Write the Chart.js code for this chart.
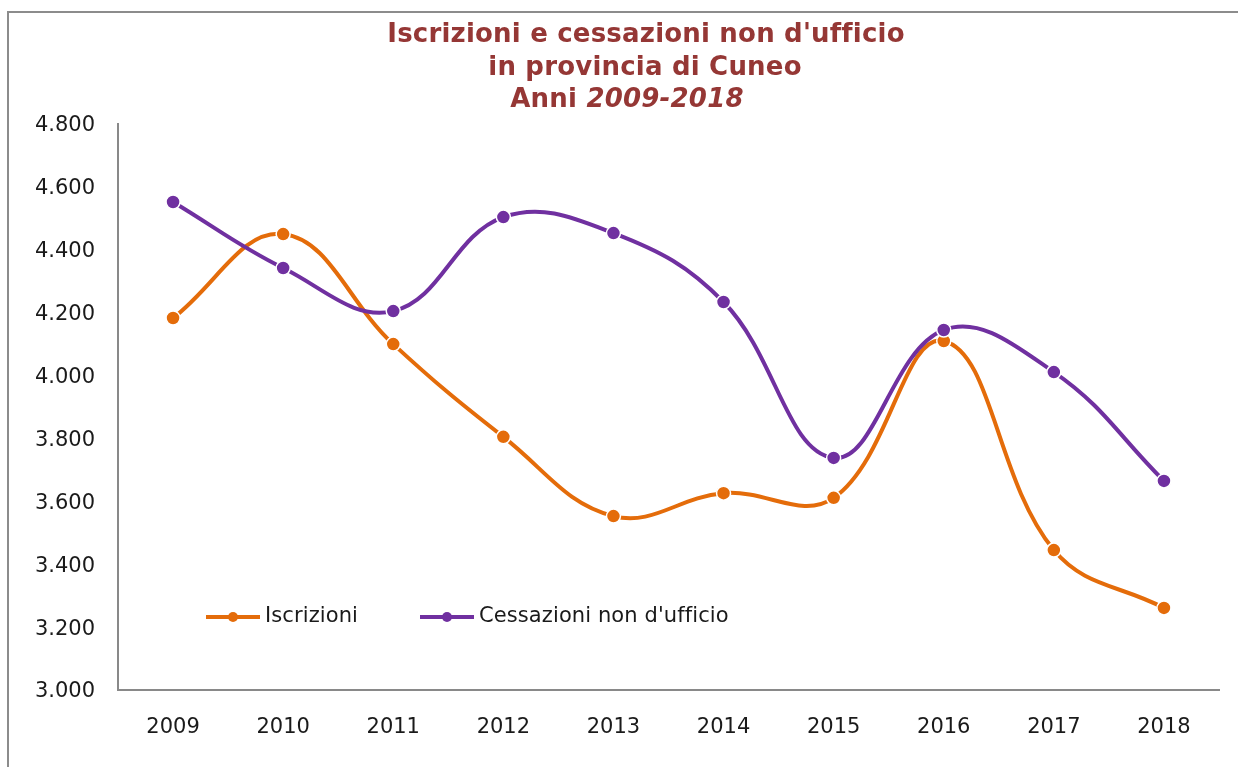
<!DOCTYPE html>
<html>
<head>
<meta charset="utf-8">
<script src="https://cdn.jsdelivr.net/npm/chart.js@4.4.1/dist/chart.umd.min.js"></script>
<style>
  html, body { margin: 0; padding: 0; background: #fff; overflow: hidden; }
  #cornice { position: absolute; left: 7px; top: 11px; width: 1300px; height: 800px;
             border-left: 2px solid #8c8c8c; border-top: 2px solid #8c8c8c; }
  #grafico { position: absolute; left: 0; top: 0; }
</style>
</head>
<body>
<div id="cornice"></div>
<canvas id="grafico" width="1238" height="767"></canvas>
<script>
// dati
const anni = ['2009', '2010', '2011', '2012', '2013', '2014', '2015', '2016', '2017', '2018']
const iscrizioni = [4183, 4450, 4100, 3805, 3553, 3626, 3611, 4110, 3445, 3261]
const cessazioni = [4552, 4342, 4205, 4504, 4453, 4234, 3738, 4145, 4011, 3665]
const nomiSerie = ['Iscrizioni', "Cessazioni non d'ufficio"]
const titolo = ["Iscrizioni e cessazioni non d'ufficio", 'in provincia di Cuneo']
const titoloAnni = ['Anni ', '2009-2018']
const yMin = 3000
const yMax = 4800
const yPasso = 200

const ARANCIO = '#e46c0a'
const VIOLA = '#7030a0'
const GRIGIO = '#898989'
const ROSSO = '#953735'
const FONT = "'DejaVu Sans', Verdana, sans-serif"

const formatta = v => String(v).replace(/\B(?=(\d{3})+(?!\d))/g, '.')

// titolo su tre righe (la terza con gli anni in corsivo)
const pluginTitolo = {
  id: 'titolo',
  afterDraw(chart) {
    const ctx = chart.ctx
    ctx.save()
    ctx.letterSpacing = '0.2px' // niente legature "ffi"
    ctx.fillStyle = ROSSO
    ctx.textBaseline = 'middle'
    ctx.textAlign = 'center'
    ctx.font = 'bold 26px ' + FONT
    ctx.fillText(titolo[0], 646, 35)
    ctx.fillText(titolo[1], 645, 68)
    const f1 = 'bold 26px ' + FONT
    const f2 = 'italic bold 26px ' + FONT
    ctx.font = f1
    const w1 = ctx.measureText(titoloAnni[0]).width
    ctx.font = f2
    const w2 = ctx.measureText(titoloAnni[1]).width
    let x = 627 - (w1 + w2) / 2
    ctx.textAlign = 'left'
    ctx.font = f1
    ctx.fillText(titoloAnni[0], x, 100)
    ctx.font = f2
    ctx.fillText(titoloAnni[1], x + w1, 100)
    ctx.restore()
  }
}

// legenda dentro l'area del grafico
const pluginLegenda = {
  id: 'legendaInterna',
  afterDraw(chart) {
    const ctx = chart.ctx
    const voci = [
      { x: 206, testo: nomiSerie[0], colore: ARANCIO },
      { x: 420, testo: nomiSerie[1], colore: VIOLA }
    ]
    const y = 617
    ctx.save()
    ctx.letterSpacing = '0.1px'
    voci.forEach(v => {
      ctx.strokeStyle = v.colore
      ctx.lineWidth = 4
      ctx.beginPath()
      ctx.moveTo(v.x, y)
      ctx.lineTo(v.x + 54, y)
      ctx.stroke()
      ctx.fillStyle = v.colore
      ctx.beginPath()
      ctx.arc(v.x + 27, y, 5, 0, Math.PI * 2)
      ctx.fill()
      ctx.fillStyle = '#1a1a1a'
      ctx.font = '21px ' + FONT
      ctx.textBaseline = 'middle'
      ctx.textAlign = 'left'
      ctx.fillText(v.testo, v.x + 59, y)
    })
    ctx.restore()
  }
}

const ctx = document.getElementById('grafico').getContext('2d')
new Chart(ctx, {
  type: 'line',
  data: {
    labels: anni,
    datasets: [
      {
        label: nomiSerie[0],
        data: iscrizioni,
        borderColor: ARANCIO,
        backgroundColor: ARANCIO,
        borderWidth: 4,
        tension: 0.4,
        pointRadius: 7,
        pointBorderWidth: 1.5,
        pointBorderColor: '#ffffff',
        pointBackgroundColor: ARANCIO,
        order: 1
      },
      {
        label: nomiSerie[1],
        data: cessazioni,
        borderColor: VIOLA,
        backgroundColor: VIOLA,
        borderWidth: 4,
        tension: 0.4,
        pointRadius: 7,
        pointBorderWidth: 1.5,
        pointBorderColor: '#ffffff',
        pointBackgroundColor: VIOLA,
        order: 0
      }
    ]
  },
  options: {
    responsive: false,
    animation: false,
    devicePixelRatio: 1,
    layout: { padding: { left: 0, top: 124, right: 19, bottom: 0 } },
    plugins: {
      legend: { display: false },
      title: { display: false },
      tooltip: { enabled: false }
    },
    scales: {
      x: {
        offset: true,
        grid: { display: false, drawTicks: false },
        border: { display: true, color: GRIGIO, width: 2 },
        ticks: { color: '#1a1a1a', font: { family: FONT, size: 21 }, padding: 25, maxRotation: 0 },
        afterFit(scale) { scale.height = 77 }
      },
      y: {
        min: yMin,
        max: yMax,
        grid: { display: false, drawTicks: false },
        border: { display: true, color: GRIGIO, width: 2 },
        ticks: {
          stepSize: yPasso,
          color: '#1a1a1a',
          font: { family: FONT, size: 21 },
          padding: 23,
          labelOffset: 2,
          callback: v => formatta(v)
        },
        afterFit(scale) { scale.width = 118 }
      }
    }
  },
  plugins: [pluginTitolo, pluginLegenda]
})
</script>
</body>
</html>
